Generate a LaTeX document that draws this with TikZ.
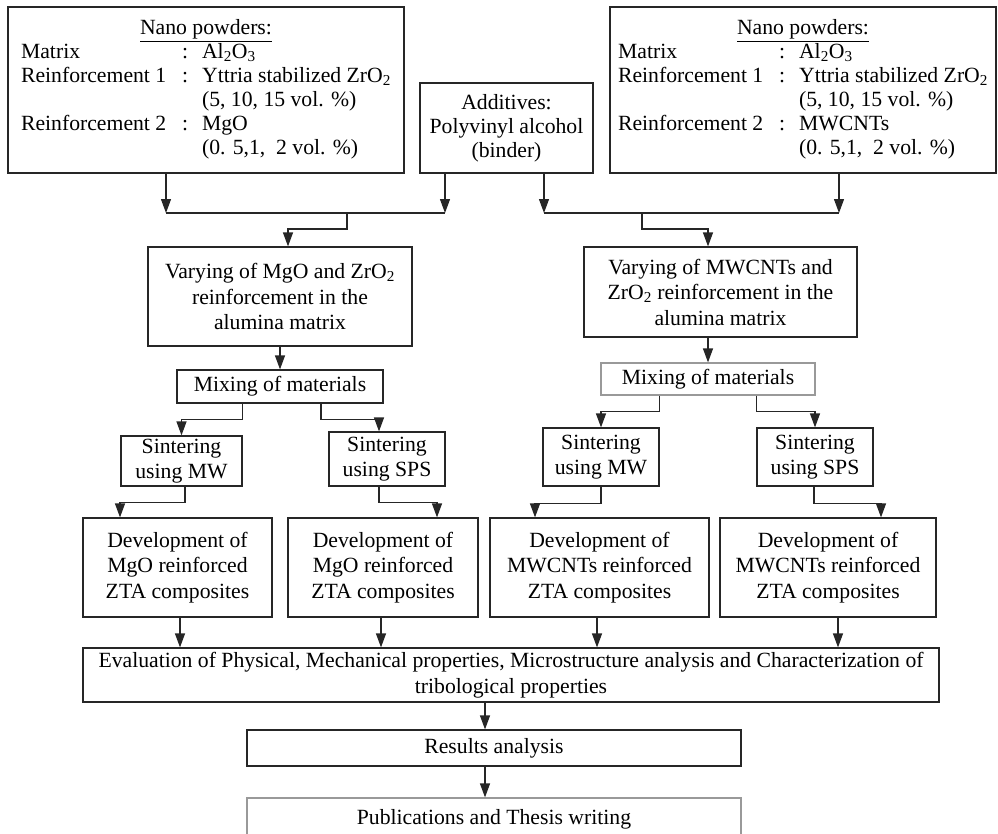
\documentclass[tikz,border=0pt]{standalone}
\usepackage{fontspec}
\setmainfont{Liberation Serif}
\usetikzlibrary{arrows.meta}
\tikzset{
  wh/.style 2 args={minimum width=#1pt, minimum height=#2pt},
  box/.style={draw=black!85, inner sep=0pt, align=center},
  bigbox/.style={box, font=\fontsize{21.7}{24}\selectfont},
  faint/.style={draw=black!40},
  arr/.style={draw=black!85, -{Triangle[length=14pt,width=10pt]}},
}
\begin{document}
\begin{tikzpicture}[x=1pt,y=-1pt,line width=1.2pt,font=\fontsize{21.7}{25.5}\selectfont]
  \useasboundingbox (0,0) rectangle (998,833);
  \node[bigbox,wh={396}{166}] (lnano) at (206,90) {\begin{tabular}{@{}p{161pt}@{}p{20pt}@{}l@{}}
    \multicolumn{3}{c}{\underline{Nano powders:}}\\
    Matrix & : & Al\textsubscript{2}O\textsubscript{3}\\
    Reinforcement 1 & : & Yttria stabilized ZrO\textsubscript{2}\\
    & & (5, 10, 15 vol. \%)\\
    Reinforcement 2 & : & MgO\\
    & & (0. 5,1,~~2 vol. \%)
  \end{tabular}};
  \node[bigbox,wh={173}{90}] (addit) at (506.5,128) {Additives:\\Polyvinyl alcohol\\(binder)};
  \node[bigbox,wh={386}{166}] (rnano) at (803,90) {\begin{tabular}{@{}p{161pt}@{}p{20pt}@{}l@{}}
    \multicolumn{3}{c}{\underline{Nano powders:}}\\
    Matrix & : & Al\textsubscript{2}O\textsubscript{3}\\
    Reinforcement 1 & : & Yttria stabilized ZrO\textsubscript{2}\\
    & & (5, 10, 15 vol. \%)\\
    Reinforcement 2 & : & MWCNTs\\
    & & (0. 5,1,~~2 vol. \%)
  \end{tabular}};
  \node[box,wh={264}{99}] (lvary) at (280,296.5) {Varying of MgO and ZrO\textsubscript{2}\\reinforcement in the\\alumina matrix};
  \node[box,wh={273}{90}] (rvary) at (720.5,292) {Varying of MWCNTs and\\ZrO\textsubscript{2} reinforcement in the\\alumina matrix};
  \node[box,wh={206}{33}] (lmix) at (280,386.5) {Mixing of materials};
  \node[box,faint,wh={214}{32}] (rmix) at (708,379) {Mixing of materials};
  \node[box,wh={121}{50}] (lmw) at (181.5,461) {Sintering\\using MW};
  \node[box,wh={116}{54}] (lsps) at (387,459) {Sintering\\using SPS};
  \node[box,wh={116}{58}] (rmw) at (601,457) {Sintering\\using MW};
  \node[box,wh={116}{58}] (rsps) at (815,457) {Sintering\\using SPS};
  \node[box,wh={189}{99}] (dev1) at (177.5,567.5) {Development of\\MgO reinforced\\ZTA composites};
  \node[box,wh={190}{99}] (dev2) at (383,567.5) {Development of\\MgO reinforced\\ZTA composites};
  \node[box,wh={219}{99}] (dev3) at (599.5,567.5) {Development of\\MWCNTs reinforced\\ZTA composites};
  \node[box,wh={216}{99}] (dev4) at (828,567.5) {Development of\\MWCNTs reinforced\\ZTA composites};
  \node[box,wh={856}{54}] (eval) at (511,675) {Evaluation of Physical, Mechanical properties, Microstructure analysis and Characterization of\\tribological properties};
  \node[box,wh={494}{36}] (res) at (494,748) {Results analysis};
  \node[box,faint,wh={494}{42}] (pub) at (494,819) {Publications and Thesis writing};

  \coordinate (jla) at (166,213);
  \coordinate (jlb) at (445,213);
  \coordinate (jl) at (347,213);
  \coordinate (jra) at (544,213);
  \coordinate (jrb) at (839,213);
  \coordinate (jr) at (642,213);
  \draw[arr] (lnano.south -| jla) -- (jla);
  \draw[arr] (addit.south -| jlb) -- (jlb);
  \draw[draw=black!85] (jla) -- (jlb);
  \draw[arr] (jl) -- ++(0,16) -| ([xshift=8pt]lvary.north);
  \draw[arr] (addit.south -| jra) -- (jra);
  \draw[arr] (rnano.south -| jrb) -- (jrb);
  \draw[draw=black!85] (jra) -- (jrb);
  \draw[arr] (jr) -- ++(0,16) -| ([xshift=-12.5pt]rvary.north);

  \draw[arr] (lvary) -- (lmix);
  \draw[arr] (rvary.south -| rmix) -- (rmix);
  \draw[arr] (lmix.south -| lmw.east) -- ++(0,16) -| (lmw.north);
  \draw[arr] (lmix.south -| 321,0) -- ++(0,16) -| ([xshift=-8pt]lsps.north);
  \draw[arr] (rmix.south -| rmw.east) -- ++(0,16) -| (rmw.north);
  \draw[arr] (rmix.south -| rsps.west) -- ++(0,16) -| (rsps.north);

  \draw[arr] (lmw.south -| 185,0) -- ++(0,16) -| (dev1.north -| 120,0);
  \draw[arr] (lsps.south -| 379,0) -- ++(0,16) -| (dev2.north -| 437,0);
  \draw[arr] (rmw.south) -- ++(0,17) -| (dev3.north -| 535,0);
  \draw[arr] (rsps.south -| 814,0) -- ++(0,17) -| (dev4.north -| 881,0);

  \foreach \n/\x in {dev1/180,dev2/381,dev3/597,dev4/838}
    \draw[arr] (\n.south -| \x,0) -- (eval.north -| \x,0);
  \draw[arr] (eval.south -| 485,0) -- (res.north -| 485,0);
  \draw[arr] (res.south -| 485,0) -- (pub.north -| 485,0);
\end{tikzpicture}
\end{document}
